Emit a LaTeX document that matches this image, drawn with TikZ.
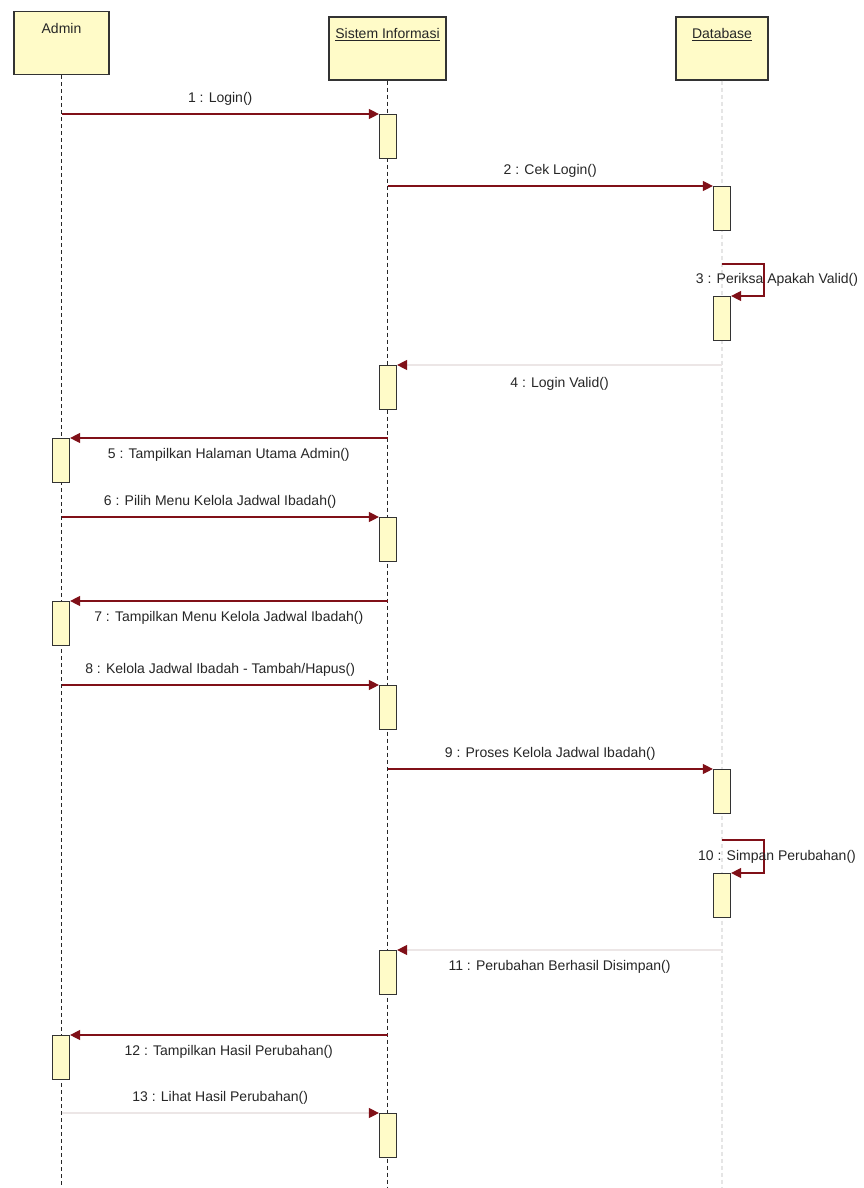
\documentclass[tikz,border=0pt]{standalone}
\usepackage{fontspec}
\setmainfont{Liberation Sans}
\usetikzlibrary{arrows.meta,positioning}
\definecolor{umlfill}{RGB}{255,251,200}
\definecolor{msgred}{RGB}{128,16,24}
\definecolor{retline}{RGB}{236,230,230}

\tikzset{
  headbox/.style={draw=black!80, line width=1.3pt, fill=umlfill, minimum height=63pt},
  headtxt/.style={text=black!85, font=\fontsize{14}{16}\selectfont, inner sep=0pt},
  lifeline/.style={black!85, line width=1.3pt, dash pattern=on 4pt off 3pt},
  act/.style={draw=black!80, line width=1.2pt, fill=umlfill, minimum width=17pt, minimum height=44pt, inner sep=0pt, anchor=north},
  msg/.style={msgred, line width=1.2pt, -{Triangle[length=10pt,width=10pt]}},
  ret/.style={retline, line width=1.2pt, -{Triangle[length=10pt,width=10pt,color=msgred]}},
  msgtxt/.style={text=black!85, font=\fontsize{14}{16}\selectfont, inner sep=2pt}
}

\begin{document}
\begin{tikzpicture}[x=1pt,y=-1pt]
\useasboundingbox (0,0) rectangle (864,1188);
\coordinate (bot) at (0,1188);

\node[headbox, minimum width=95pt] (admin) at (61.5,43) {};
\node[headbox, minimum width=117pt] (sis) at (387.5,48.5) {};
\node[headbox, minimum width=92pt] (db) at (722,48.5) {};
\node[headtxt, below=12pt of admin.north] {Admin};
\node[headtxt, below=12pt of sis.north] {\underline{Sistem Informasi}};
\node[headtxt, below=12pt of db.north] {\underline{Database}};

\draw[lifeline] (admin.south) -- (admin.south |- bot);
\draw[lifeline] (sis.south) -- (sis.south |- bot);
\draw[lifeline, black!10] (db.south) -- (db.south |- bot);

\node[act] (s1) at (388,114) {};
\node[act] (d1) at (722,186) {};
\node[act] (d2) at (722,296) {};
\node[act] (s2) at (388,365) {};
\node[act] (a1) at (61,438) {};
\node[act] (s3) at (388,517) {};
\node[act] (a2) at (61,601) {};
\node[act] (s4) at (388,685) {};
\node[act] (d3) at (722,769) {};
\node[act] (d4) at (722,873) {};
\node[act] (s5) at (388,950) {};
\node[act] (a3) at (61,1035) {};
\node[act] (s6) at (388,1113) {};

\draw[msg] (admin.south |- s1.north) -- (s1.north west) node[msgtxt, midway, above=6pt] {1 : Login()};
\draw[msg] (sis.south |- d1.north) -- (d1.north west) node[msgtxt, midway, above=6pt] {2 : Cek Login()};
\draw[msg] ([yshift=32pt]d2.north) -- ++(42,0) -- ++(0,32) node[msgtxt, midway, xshift=13pt] {3 : Periksa Apakah Valid()} -- (d2.north east);
\draw[ret] (db.south |- s2.north) -- (s2.north east) node[msgtxt, midway, below=10pt] {4 : Login Valid()};
\draw[msg] (sis.south |- a1.north) -- (a1.north east) node[msgtxt, midway, below=8pt] {5 : Tampilkan Halaman Utama Admin()};
\draw[msg] (admin.south |- s3.north) -- (s3.north west) node[msgtxt, midway, above=6pt] {6 : Pilih Menu Kelola Jadwal Ibadah()};
\draw[msg] (sis.south |- a2.north) -- (a2.north east) node[msgtxt, midway, below=8pt] {7 : Tampilkan Menu Kelola Jadwal Ibadah()};
\draw[msg] (admin.south |- s4.north) -- (s4.north west) node[msgtxt, midway, above=6pt] {8 : Kelola Jadwal Ibadah - Tambah/Hapus()};
\draw[msg] (sis.south |- d3.north) -- (d3.north west) node[msgtxt, midway, above=6pt] {9 : Proses Kelola Jadwal Ibadah()};
\draw[msg] ([yshift=33pt]d4.north) -- ++(42,0) -- ++(0,33) node[msgtxt, midway, xshift=13pt] {10 : Simpan Perubahan()} -- (d4.north east);
\draw[ret] (db.south |- s5.north) -- (s5.north east) node[msgtxt, midway, below=8pt] {11 : Perubahan Berhasil Disimpan()};
\draw[msg] (sis.south |- a3.north) -- (a3.north east) node[msgtxt, midway, below=8pt] {12 : Tampilkan Hasil Perubahan()};
\draw[ret] (admin.south |- s6.north) -- (s6.north west) node[msgtxt, midway, above=6pt] {13 : Lihat Hasil Perubahan()};
\end{tikzpicture}
\end{document}
